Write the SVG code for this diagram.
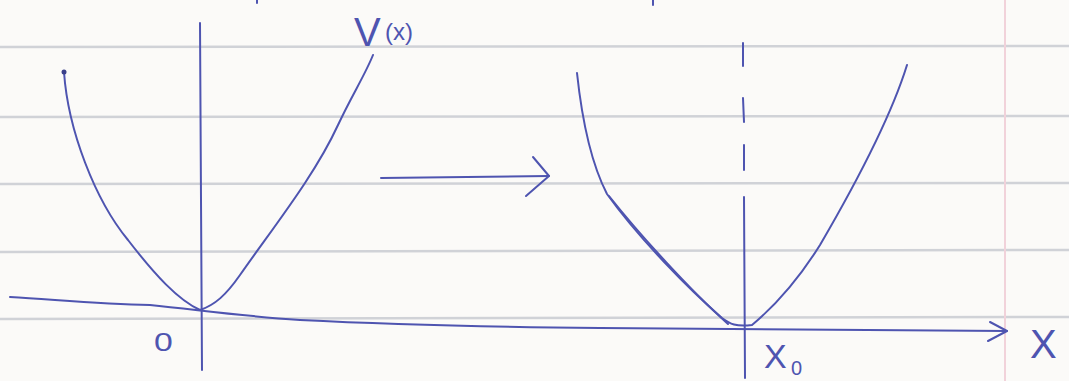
<svg xmlns="http://www.w3.org/2000/svg" width="1069" height="381" viewBox="0 0 1069 381">
<style>
.rule{stroke:#d0d2d7;stroke-width:2.5;fill:none}
.pen{stroke:#4e54b0;stroke-width:2;fill:none;stroke-linecap:round;stroke-linejoin:round}
.lbl{fill:#4e54b0;font-family:"Liberation Sans",Arial,sans-serif}
</style>
<rect width="1069" height="381" fill="#fbfaf8"/>
<g id="paper">
<path class="rule" d="M0 47 L1069 46"/>
<path class="rule" d="M0 117 L1069 116"/>
<path class="rule" d="M0 184 L1069 183"/>
<path class="rule" d="M0 252 L1069 250"/>
<path class="rule" d="M0 319 L1069 317"/>
<path d="M1005 0 L1005 381" stroke="#f1d2da" stroke-width="2"/>
</g>
<g id="left-plot">
<path class="pen" d="M200 23 L201 200 L202 370"/>
<path class="pen" d="M64 72 C68 130 95 200 128 240 C155 275 178 300 200 310 C215 305 226 295 240 275 C275 225 315 175 338 125 C352 95 365 75 373 55"/>
<circle cx="64" cy="72" r="2.5" fill="#3a3f8a"/>
</g>
<g id="right-plot">
<path class="pen" d="M743 43 L743 66 M743 98 L744 122 M744 145 L744 170 M744 197 L745 378"/>
<path class="pen" d="M577 73 C582 120 592 165 607 194 C640 240 690 290 722 318 C730 324 736 327 752 325 C770 310 795 285 820 245 C855 185 890 120 907 65"/>
<path class="pen" d="M609 196 C640 235 690 290 728 324"/>
</g>
<g id="connectors">
<path class="pen" d="M10 297 C60 300 100 304 150 305 C200 310 240 316 300 320 C400 325 500 327 600 328 C750 330 900 331 1007 331"/>
<path class="pen" d="M990 322 L1007 331 L988 341"/>
<path class="pen" d="M381 178 L549 176"/>
<path class="pen" d="M533 157 L549 176 L526 196"/>
</g>
<g id="labels">
<text class="lbl" x="354" y="46" font-size="40">V</text>
<text class="lbl" x="385" y="40" font-size="24">(x)</text>
<text class="lbl" x="154" y="351" font-size="26" transform="translate(154 351) scale(1.3 1) translate(-154 -351)">0</text>
<text class="lbl" x="764" y="368" font-size="34">X</text>
<text class="lbl" x="791" y="375" font-size="20">0</text>
<text class="lbl" x="1030" y="358" font-size="40">X</text>
</g>
<g id="marks">
<path class="pen" d="M257 0 L257 3 M653 0 L653 5"/>
</g>
</svg>
